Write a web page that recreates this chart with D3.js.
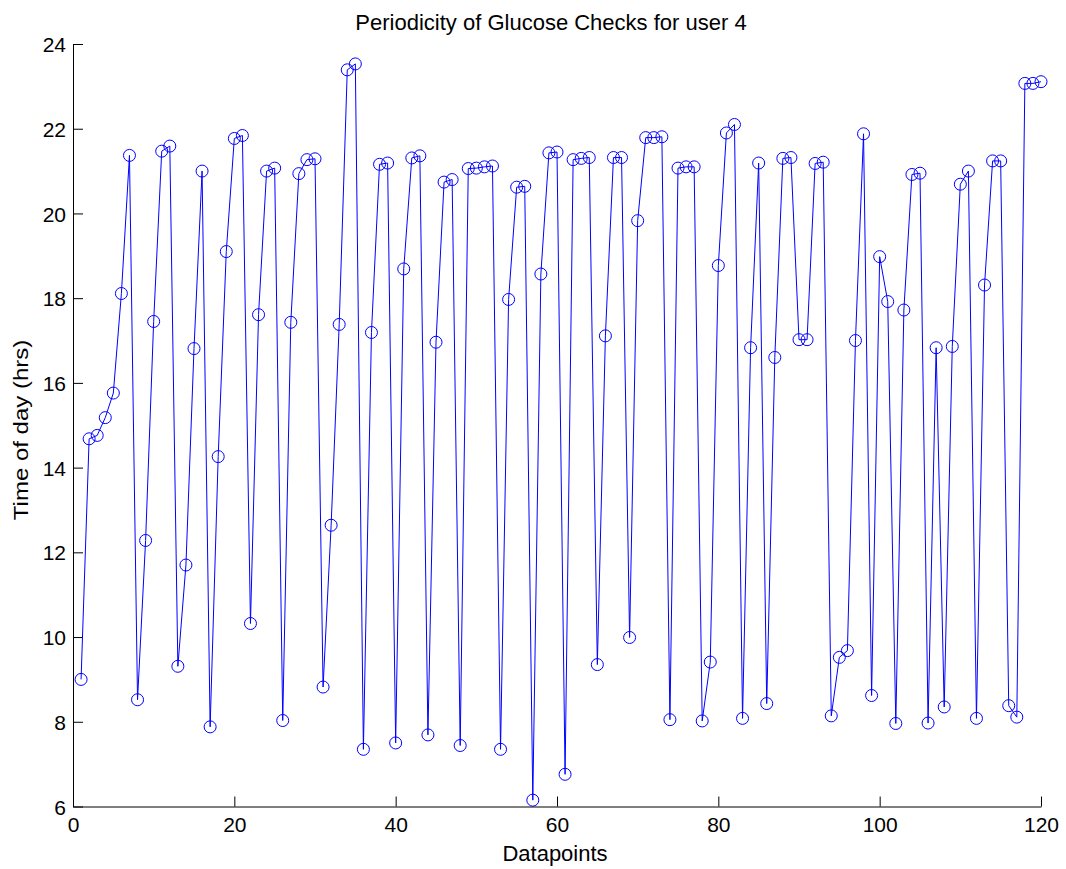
<!DOCTYPE html>
<html>
<head>
<meta charset="utf-8">
<script src="https://cdn.jsdelivr.net/npm/d3@7"></script>
<style>
  html, body { margin: 0; padding: 0; background: #fff; }
  svg { display: block; }
  text { font-family: "Liberation Sans", Arial, Helvetica, sans-serif; fill: #000; }
</style>
</head>
<body>
<svg id="chart" width="1066" height="869"></svg>
<script>
// ---- data ----
const titleText = "Periodicity of Glucose Checks for user 4";
const xLabelText = "Datapoints";
const yLabelText = "Time of day (hrs)";
const xTicks = [0, 20, 40, 60, 80, 100, 120];
const yTicks = [6, 8, 10, 12, 14, 16, 18, 20, 22, 24];
const datapoints = d3.range(1, 121);
const timeOfDay = [
  9.00, 14.68, 14.76, 15.18, 15.76, 18.11, 21.37, 8.52, 12.28, 17.45,
  21.47, 21.59, 9.31, 11.70, 16.81, 21.00, 7.88, 14.26, 19.10, 21.77,
  21.84, 10.32, 17.61, 21.00, 21.07, 8.03, 17.43, 20.94, 21.27, 21.29,
  8.82, 12.64, 17.38, 23.39, 23.53, 7.35, 17.19, 21.16, 21.19, 7.50,
  18.69, 21.31, 21.36, 7.69, 16.96, 20.74, 20.80, 7.44, 21.06, 21.07,
  21.10, 21.12, 7.35, 17.97, 20.62, 20.64, 6.15, 18.57, 21.43, 21.45,
  6.76, 21.27, 21.30, 21.32, 9.35, 17.11, 21.32, 21.32, 9.99, 19.83,
  21.79, 21.79, 21.81, 8.05, 21.07, 21.10, 21.10, 8.02, 9.41, 18.77,
  21.90, 22.10, 8.08, 16.83, 21.19, 8.43, 16.60, 21.30, 21.32, 17.02,
  17.02, 21.18, 21.21, 8.14, 9.52, 9.68, 17.00, 21.88, 8.62, 18.98,
  17.92, 7.96, 17.72, 20.92, 20.95, 7.97, 16.83, 8.35, 16.86, 20.69,
  21.00, 8.08, 18.31, 21.24, 21.24, 8.38, 8.11, 23.07, 23.07, 23.11
];

// ---- layout ----
const plotLeft = 73, plotRight = 1041, plotTop = 44, plotBottom = 806.5;
const svg = d3.select("#chart");

const x = d3.scaleLinear().domain([0, 120]).range([plotLeft, plotRight]);
const y = d3.scaleLinear().domain([6, 24]).range([plotBottom, plotTop]);

const points = datapoints.map((d, i) => ({ x: d, y: timeOfDay[i] }));

// axes
const xAxis = d3.axisBottom(x).tickValues(xTicks).tickFormat(d3.format("d"))
  .tickSizeInner(-10).tickSizeOuter(0).tickPadding(11);
const yAxis = d3.axisLeft(y).tickValues(yTicks).tickFormat(d3.format("d"))
  .tickSizeInner(-10).tickSizeOuter(0).tickPadding(7);

const gx = svg.append("g").attr("transform", `translate(0,${plotBottom})`).call(xAxis);
const gy = svg.append("g").attr("transform", `translate(${plotLeft},0)`).call(yAxis);
[gx, gy].forEach(g => {
  g.attr("font-family", null).attr("font-size", null);
  g.selectAll("path").attr("stroke", "#000").attr("stroke-width", 1);
  g.selectAll("line").attr("stroke", "#000").attr("stroke-width", 1);
  g.selectAll("text").style("font-size", "21px").attr("fill", "#000");
});
gy.selectAll("text").attr("dy", "0.36em");

// line
const line = d3.line().x(d => x(d.x)).y(d => y(d.y));
svg.append("path")
  .datum(points)
  .attr("d", line)
  .attr("fill", "none")
  .attr("stroke", "#0000ff")
  .attr("stroke-width", 1);

// markers
svg.append("g").selectAll("circle")
  .data(points)
  .join("circle")
  .attr("cx", d => x(d.x))
  .attr("cy", d => y(d.y))
  .attr("r", 6)
  .attr("fill", "none")
  .attr("stroke", "#0000ff")
  .attr("stroke-width", 1);

// title and labels
svg.append("text")
  .attr("x", 551).attr("y", 30)
  .attr("text-anchor", "middle")
  .style("font-size", "22px")
  .text(titleText);

svg.append("text")
  .attr("x", 555).attr("y", 861)
  .attr("text-anchor", "middle")
  .style("font-size", "22px")
  .text(xLabelText);

svg.append("text")
  .attr("transform", "translate(28,430) rotate(-90) scale(1,0.88)")
  .attr("text-anchor", "middle")
  .style("font-size", "24px")
  .text(yLabelText);
</script>
</body>
</html>
